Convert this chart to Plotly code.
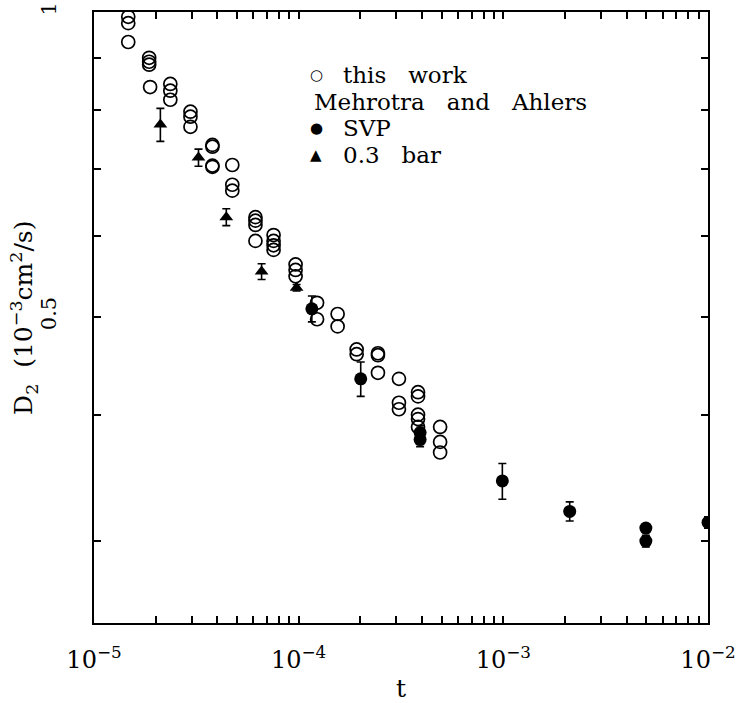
import math
import plotly.graph_objects as go

# ---- data ----
this_work_t = [1.47e-5, 1.47e-5, 1.47e-5,
               1.86e-5, 1.86e-5, 1.86e-5, 1.88e-5,
               2.36e-5, 2.36e-5, 2.36e-5,
               2.96e-5, 2.96e-5, 2.96e-5,
               3.79e-5, 3.79e-5, 3.79e-5, 3.79e-5,
               4.74e-5, 4.74e-5, 4.74e-5,
               6.15e-5, 6.15e-5, 6.15e-5, 6.15e-5,
               7.54e-5, 7.54e-5, 7.54e-5, 7.54e-5,
               9.66e-5, 9.66e-5, 9.66e-5,
               1.23e-4, 1.23e-4,
               1.55e-4, 1.55e-4,
               1.92e-4, 1.92e-4,
               2.44e-4, 2.44e-4, 2.44e-4,
               3.09e-4, 3.09e-4, 3.09e-4,
               3.83e-4, 3.83e-4, 3.83e-4, 3.83e-4, 3.83e-4,
               4.91e-4, 4.91e-4, 4.91e-4]
this_work_D = [0.989, 0.975, 0.934,
               0.901, 0.893, 0.887, 0.843,
               0.849, 0.836, 0.819,
               0.797, 0.788, 0.770,
               0.739, 0.736, 0.705, 0.703,
               0.706, 0.675, 0.666,
               0.627, 0.622, 0.616, 0.594,
               0.602, 0.594, 0.588, 0.582,
               0.563, 0.556, 0.548,
               0.516, 0.497,
               0.503, 0.489,
               0.464, 0.459,
               0.460, 0.458, 0.440,
               0.434, 0.411, 0.405,
               0.421, 0.417, 0.400, 0.396, 0.389,
               0.389, 0.376, 0.367]

svp_t = [1.16e-4, 2.01e-4, 3.92e-4, 3.92e-4, 9.89e-4, 2.11e-3, 4.97e-3, 4.97e-3, 1.0e-2]
svp_D = [0.509, 0.434, 0.384, 0.378, 0.344, 0.321, 0.309, 0.300, 0.313]
svp_err = [0.015, 0.017, 0.006, 0.006, 0.014, 0.007, 0.003, 0.004, 0.004]

bar_t = [2.11e-5, 3.24e-5, 4.43e-5, 6.59e-5, 9.77e-5]
bar_D = [0.774, 0.718, 0.627, 0.554, 0.534]
bar_err = [0.029, 0.014, 0.012, 0.010, 0.004]

x_decades = [1e-5, 1e-4, 1e-3, 1e-2]
x_decade_labels = ["10<sup>−5</sup>", "10<sup>−4</sup>", "10<sup>−3</sup>", "10<sup>−2</sup>"]
y_ticks = [0.3, 0.4, 0.5, 0.6, 0.7, 0.8, 0.9, 1.0]
y_tick_labels = ["", "", "0.5", "", "", "", "", "1"]

legend_symbols = ["○", "", "●", "▲"]
legend_texts = ["this   work", "Mehrotra   and   Ahlers", "SVP", "0.3   bar"]
x_title = "t"
y_title = "D<sub>2</sub>  (10<sup>−3</sup>cm<sup>2</sup>/s)"

# ---- build ticks ----
x_tickvals, x_ticktext = [], []
for i, d in enumerate(x_decades):
    x_tickvals.append(d)
    x_ticktext.append(x_decade_labels[i])
    if i < len(x_decades) - 1:
        for m in range(2, 10):
            x_tickvals.append(d * m)
            x_ticktext.append("")

FONT = "DejaVu Serif"

fig = go.Figure()
fig.add_trace(go.Scatter(
    x=this_work_t, y=this_work_D, mode="markers", name="this work",
    marker=dict(symbol="circle-open", size=13, color="black", line=dict(width=1.7, color="black"))))
fig.add_trace(go.Scatter(
    x=svp_t, y=svp_D, mode="markers", name="SVP",
    marker=dict(symbol="circle", size=13, color="black"),
    error_y=dict(type="data", array=svp_err, visible=True, color="black", thickness=1.6, width=4)))
fig.add_trace(go.Scatter(
    x=bar_t, y=bar_D, mode="markers", name="0.3 bar",
    marker=dict(symbol="triangle-up", size=12, color="black"),
    error_y=dict(type="data", array=bar_err, visible=True, color="black", thickness=1.6, width=4)))

axis_common = dict(showline=True, linecolor="black", linewidth=2, mirror="ticks",
                   ticks="inside", ticklen=7, tickwidth=1.5, tickcolor="black",
                   showgrid=False, zeroline=False, automargin=False)

fig.update_layout(
    width=738, height=703,
    margin=dict(l=94, r=30, t=12, b=80),
    paper_bgcolor="white", plot_bgcolor="white",
    showlegend=False,
    font=dict(family=FONT, color="black"),
    xaxis=dict(type="log", range=[-5, -2], tickmode="array", tickvals=x_tickvals, ticktext=x_ticktext,
               tickfont=dict(size=24, family=FONT), ticklabelstandoff=14,
               title=dict(text=x_title, font=dict(size=25, family=FONT), standoff=10),
               **axis_common),
    yaxis=dict(type="log", range=[math.log10(0.249), 0], tickmode="array", tickvals=y_ticks, ticktext=y_tick_labels,
               tickangle=-90, tickfont=dict(size=21, family=FONT), ticklabelstandoff=28,
               **axis_common),
)

fig.add_annotation(text=y_title, xref="paper", yref="paper", x=-0.115, y=0.5,
                   xanchor="center", yanchor="middle", textangle=-90, showarrow=False,
                   font=dict(size=25, family=FONT))

legend_y = [0.897, 0.853, 0.810, 0.766]
for sym, txt, yy in zip(legend_symbols, legend_texts, legend_y):
    if sym:
        fig.add_annotation(text=sym, xref="paper", yref="paper", x=0.362, y=yy,
                           xanchor="center", yanchor="middle", showarrow=False,
                           font=dict(size=15, family="DejaVu Sans"))
        fig.add_annotation(text=txt, xref="paper", yref="paper", x=0.402, y=yy,
                           xanchor="left", yanchor="middle", showarrow=False,
                           font=dict(size=23, family=FONT))
    else:
        fig.add_annotation(text=txt, xref="paper", yref="paper", x=0.355, y=yy,
                           xanchor="left", yanchor="middle", showarrow=False,
                           font=dict(size=23, family=FONT))

fig.write_html("out.html")
